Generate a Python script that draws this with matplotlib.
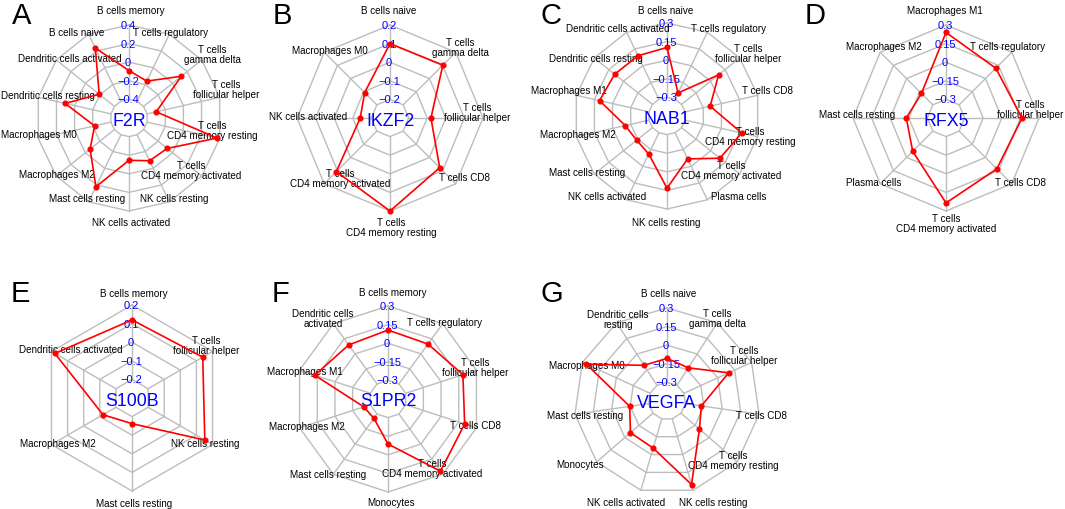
import numpy as np
import matplotlib
matplotlib.use('Agg')
import matplotlib.pyplot as plt

plt.rcParams['font.family'] = ['Liberation Sans', 'DejaVu Sans']

# ---------------- data ----------------
f2r_cells = ['B cells memory', 'B cells naive', 'Dendritic cells activated', 'Dendritic cells resting',
             'Macrophages M0', 'Macrophages M2', 'Mast cells resting', 'NK cells activated',
             'NK cells resting', 'T cells\nCD4 memory activated', 'T cells\nCD4 memory resting',
             'T cells\nfollicular helper', 'T cells\ngamma delta', 'T cells regulatory']
f2r_vals = [-0.09, 0.235, -0.19, 0.105, -0.22, -0.065, 0.22, -0.145, -0.09, -0.075, 0.37, -0.30, 0.12, -0.16]
f2r_ticks = [-0.4, -0.2, 0, 0.2, 0.4]

ikzf2_cells = ['B cells naive', 'Macrophages M0', 'NK cells activated', 'T cells\nCD4 memory activated',
               'T cells\nCD4 memory resting', 'T cells CD8', 'T cells\nfollicular helper', 'T cells\ngamma delta']
ikzf2_vals = [0.10, -0.107, -0.14, 0.108, 0.20, 0.078, -0.08, 0.102]
ikzf2_ticks = [-0.2, -0.1, 0, 0.1, 0.2]

nab1_cells = ['B cells naive', 'Dendritic cells activated', 'Dendritic cells resting', 'Macrophages M1',
              'Macrophages M2', 'Mast cells resting', 'NK cells activated', 'NK cells resting',
              'Plasma cells', 'T cells\nCD4 memory activated', 'T cells\nCD4 memory resting',
              'T cells CD8', 'T cells\nfollicular helper', 'T cells regulatory']
nab1_vals = [0.103, 0.089, 0.09, 0.108, -0.104, -0.137, -0.11, 0.132, -0.066, 0.096, 0.168, -0.093, 0.082, -0.244]
nab1_ticks = [-0.3, -0.15, 0, 0.15, 0.3]

rfx5_cells = ['Macrophages M1', 'Macrophages M2', 'Mast cells resting', 'Plasma cells',
              'T cells\nCD4 memory activated', 'T cells CD8', 'T cells\nfollicular helper', 'T cells regulatory']
rfx5_vals = [0.24, -0.17, -0.13, -0.07, 0.235, 0.13, 0.163, 0.118]
rfx5_ticks = [-0.3, -0.15, 0, 0.15, 0.3]

s100b_cells = ['B cells memory', 'Dendritic cells activated', 'Macrophages M2', 'Mast cells resting',
               'NK cells resting', 'T cells\nfollicular helper']
s100b_vals = [0.12, 0.179, -0.12, -0.162, 0.152, 0.139]
s100b_ticks = [-0.2, -0.1, 0, 0.1, 0.2]

s1pr2_cells = ['B cells memory', 'Dendritic cells\nactivated', 'Macrophages M1', 'Macrophages M2',
               'Mast cells resting', 'Monocytes', 'T cells\nCD4 memory activated', 'T cells CD8',
               'T cells\nfollicular helper', 'T cells regulatory']
s1pr2_vals = [0.106, 0.089, 0.171, -0.245, -0.257, -0.087, 0.27, 0.20, 0.185, 0.098]
s1pr2_ticks = [-0.3, -0.15, 0, 0.15, 0.3]

vegfa_cells = ['B cells naive', 'Dendritic cells\nresting', 'Macrophages M0', 'Mast cells resting',
               'Monocytes', 'NK cells activated', 'NK cells resting', 'T cells\nCD4 memory resting',
               'T cells CD8', 'T cells\nfollicular helper', 'T cells\ngamma delta']
vegfa_vals = [-0.106, -0.108, 0.265, -0.146, -0.06, -0.054, 0.252, -0.104, -0.17, 0.097, -0.132]
vegfa_ticks = [-0.3, -0.15, 0, 0.15, 0.3]

# ---------------- layout (pixels) ----------------
W, H = 1065, 510
R = 93.0
S = 1.45

# label offsets from the radar centre, in pixels (x right, y down)
f2r_off = [(2, -108), (-52, -86), (-59, -60), (-81, -23), (-90, 16), (-72, 56), (-42, 80), (2, 104),
           (45, 80), (62, 52), (83, 12), (97, -29), (83, -64), (42, -86)]
ikzf2_off = [(-1, -108), (-60, -68), (-82, -2), (-50, 60), (1, 109), (74, 59), (87, -6), (70, -71)]
nab1_off = [(-1, -106), (-49, -88), (-71, -58), (-98, -26), (-89, 18), (-80, 56), (-60, 80), (-1, 106),
            (72, 80), (64, 54), (83, 20), (100, -26), (81, -63), (62, -88)]
rfx5_off = [(-1, -108), (-62, -72), (-89, -4), (-72, 64), (0, 105), (74, 64), (84, -9), (62, -72)]
s100b_off = [(2, -105), (-61, -49), (-74, 45), (2, 105), (73, 45), (74, -53)]
s1pr2_off = [(5, -107), (-65, -81), (-83, -28), (-81, 27), (-60, 75), (3, 103), (44, 69), (87, 26),
             (87, -32), (57, -77)]
vegfa_off = [(2, -108), (-49, -82), (-80, -36), (-82, 14), (-87, 63), (-41, 101), (46, 101), (66, 59),
             (94, 14), (77, -46), (50, -83)]

panels = [
    ('A', 'F2R', f2r_cells, f2r_vals, f2r_ticks, f2r_off, (129, 119), (12, 24)),
    ('B', 'IKZF2', ikzf2_cells, ikzf2_vals, ikzf2_ticks, ikzf2_off, (390, 119), (273, 24)),
    ('C', 'NAB1', nab1_cells, nab1_vals, nab1_ticks, nab1_off, (667, 117), (541, 24)),
    ('D', 'RFX5', rfx5_cells, rfx5_vals, rfx5_ticks, rfx5_off, (946, 119), (805, 24)),
    ('E', 'S100B', s100b_cells, s100b_vals, s100b_ticks, s100b_off, (132, 399), (11, 302)),
    ('F', 'S1PR2', s1pr2_cells, s1pr2_vals, s1pr2_ticks, s1pr2_off, (388, 400), (272, 302)),
    ('G', 'VEGFA', vegfa_cells, vegfa_vals, vegfa_ticks, vegfa_off, (667, 402), (541, 302)),
]

grid_col = '#bdbdbd'


def fmt(v):
    if v == 0:
        return '0'
    return ('%g' % v).replace('-', '\u2212')


fig = plt.figure(figsize=(W / 100, H / 100), dpi=100)

for letter, gene, cells, vals, ticks, offs, (cx, cy), (lx, ly) in panels:
    ax = fig.add_axes([(cx - S * R) / W, (H - cy - S * R) / H, 2 * S * R / W, 2 * S * R / H])
    ax.set_xlim(-S, S)
    ax.set_ylim(-S, S)
    ax.axis('off')

    n = len(cells)
    ang = np.arange(n) * 2 * np.pi / n
    ux = -np.sin(ang)
    uy = np.cos(ang)

    # polygon grid + spokes
    for k in range(1, 6):
        rr = k / 5
        ax.plot(np.append(ux, ux[0]) * rr, np.append(uy, uy[0]) * rr, color=grid_col, lw=1.0, zorder=1)
    for i in range(n):
        ax.plot([0.2 * ux[i], ux[i]], [0.2 * uy[i], uy[i]], color=grid_col, lw=1.0, zorder=1)

    # values -> radius (fmsb style, inner hole)
    lo, hi = ticks[0], ticks[-1]
    r = (1 + 4 * (np.array(vals) - lo) / (hi - lo)) / 5
    px = np.append(r * ux, r[0] * ux[0])
    py = np.append(r * uy, r[0] * uy[0])
    ax.plot(px, py, color='red', lw=1.2, zorder=5)
    ax.plot(r * ux, r * uy, 'o', color='red', ms=3.4, zorder=6)

    # axis numbers
    for k, t in enumerate(ticks):
        ax.text(-0.01, (k + 1) / 5, fmt(t), color='blue', ha='center', va='center', fontsize=8, zorder=4)

    # category labels
    for lab, (dx, dy) in zip(cells, offs):
        ax.text(dx / R, -dy / R, lab, ha='center', va='center', multialignment='center',
                fontsize=7.1, linespacing=0.95, color='black', zorder=3)

    ax.text(0, -2 / R, gene, color='blue', ha='center', va='center', fontsize=12.8, zorder=4)

    fig.text(lx / W, 1 - ly / H, letter, fontsize=21, ha='left', va='baseline')

fig.savefig('out.png', dpi=100)
